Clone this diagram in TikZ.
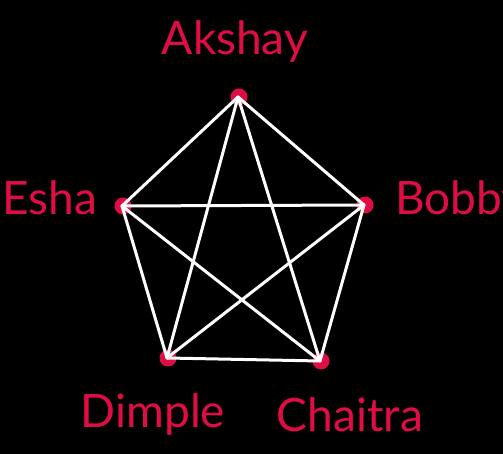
\documentclass[tikz,border=0pt]{standalone}
\usepackage{fontspec}
\setmainfont{Lato}
\usetikzlibrary{calc}
\usepackage{tkz-euclide}
\definecolor{NameClr}{rgb}{0.88,0.05,0.27}

\begin{document}
\begin{tikzpicture}[x=1pt,y=1pt]
\useasboundingbox (0,0) rectangle (503,454);
\fill[black] (0,0) rectangle (503,454);
\tkzSetUpLine[line width=3pt,color=white]

\tkzDefPoint(238,357){A}
\tkzDefPoint(364,249){B}
\tkzDefPoint(320,93){C}
\tkzDefPoint(167,96){D}
\tkzDefPoint(122,248){E}

\foreach \p in {A,B,C,D,E}
  \fill[NameClr] ($(\p)+(1,0)$) circle (8.5);

\tkzDrawSegments[line width=3pt,color=white,line cap=round](A,B B,C C,D D,E E,A)
\tkzDrawSegments[line width=3pt,color=white,line cap=round](A,C A,D B,D B,E C,E)

\tikzset{name label/.style={text=NameClr,anchor=base,inner sep=0pt,
  font=\fontsize{46}{50}\selectfont}}
\tkzLabelPoint[name label,xshift=-3pt,yshift=42pt](A){Akshay}
\tkzLabelPoint[name label,anchor=base west,xshift=31pt,yshift=-10pt](B){Bobby}
\tkzLabelPoint[name label,xshift=30pt,yshift=-71pt](C){Chaitra}
\tkzLabelPoint[name label,xshift=-14pt,yshift=-70pt](D){Dimple}
\tkzLabelPoint[name label,anchor=base east,xshift=-25pt,yshift=-9pt](E){Esha}

\end{tikzpicture}
\end{document}
